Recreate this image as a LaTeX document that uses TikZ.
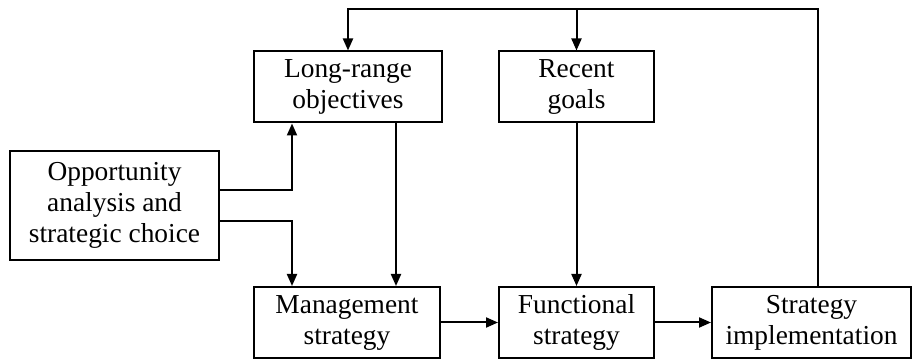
\documentclass[tikz,border=0pt]{standalone}
\usepackage{fontspec}
\setmainfont{Liberation Serif}
\usetikzlibrary{arrows.meta}

\begin{document}
\begin{tikzpicture}[x=1pt, y=-1pt, line width=2pt,
	box/.style={draw, align=center, inner sep=0pt, minimum height=71pt,
		font=\fontsize{27.4}{31}\selectfont},
	arr/.style={-{Triangle[length=12pt,width=10pt]}}]
	\useasboundingbox (0,0) rectangle (913,363);
	\node[box, minimum width=188pt] (lro) at (348, 87) {Long-range\\objectives};
	\node[box, minimum width=155pt] (rec) at (576.5, 87) {Recent\\goals};
	\node[box, minimum width=209pt, minimum height=109pt] (opp) at (114.5, 205.5)
		{Opportunity\\analysis and\\strategic choice};
	\node[box, minimum width=186pt] (mgt) at (347, 322.5) {Management\\strategy};
	\node[box, minimum width=155pt] (fun) at (576.5, 322.5) {Functional\\strategy};
	\node[box, minimum width=199pt] (imp) at (811.5, 322.5) {Strategy\\implementation};
	% feedback loop along the top
	\coordinate (top) at (818, 9);
	\draw[arr] (imp.north -| top) |- (lro.north |- top) -- (lro.north);
	\draw[arr] (rec.north |- top) -- (rec.north);
	% opportunity analysis feeds both
	\draw[arr] ([yshift=15.5pt]opp.east) -| ([xshift=-56pt]lro.south);
	\draw[arr] ([yshift=-15.5pt]opp.east) -| ([xshift=-55pt]mgt.north);
	\coordinate (ld) at ([xshift=48pt]lro.south);
	\draw[arr] (ld) -- (ld |- mgt.north);
	\draw[arr] (rec.south) -- (fun.north);
	\foreach \a/\b in {mgt/fun, fun/imp}
	\draw[arr] (\a.east) -- (\b.west);
\end{tikzpicture}
\end{document}
